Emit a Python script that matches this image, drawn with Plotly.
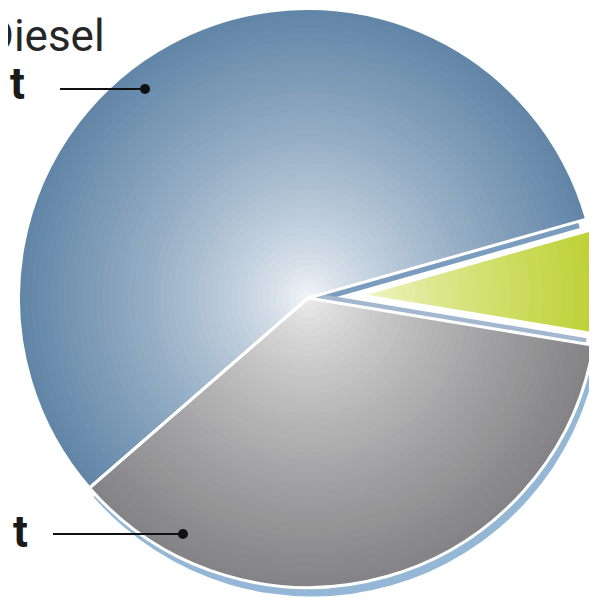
import numpy as np
import plotly.graph_objects as go

# ---------------- data ----------------
labels = ["Diesel", "Segment grün", "Segment grau"]
values = [57.0, 7.0, 36.0]
label_texts = ["Diesel", "t", "t"]

# ---------------- styling ----------------
edge_cols = [(98, 134, 168), (182, 204, 32), (132, 132, 134)]
center_cols = [(248, 250, 252), (246, 249, 215), (240, 240, 240)]
RIM_COL = "#95b7d6"
STRIP_BLUE = "#7a9dbf"
STRIP_GREY = "#a3b7cf"
TRANSP = "rgba(0,0,0,0)"
GAMMA = 0.75

W, H = 660, 600
OFF = 8            # page margin of the html body
CX, CY, R = 308, 298, 289.5   # pie centre / radius in screen px
ROT = 229
PULL = 50
N = 45

def dom(cx, cy, r):
    x0 = (cx - OFF - r) / W
    x1 = (cx - OFF + r) / W
    y0 = 1 - (cy - OFF + r) / H
    y1 = 1 - (cy - OFF - r) / H
    return dict(x=[max(0, x0), min(1, x1)], y=[max(0, y0), min(1, y1)])

def mix(c0, c1, f):
    return "rgb(%d,%d,%d)" % tuple(round(a + (b - a) * f) for a, b in zip(c0, c1))

tot = sum(values)
g_start = ROT + values[0] / tot * 360
g_mid = g_start + values[1] / tot * 180
gcx = CX + PULL * np.sin(np.radians(g_mid))
gcy = CY - PULL * np.cos(np.radians(g_mid))
RG = min(R, gcy - OFF - 0.5)

common = dict(labels=labels, values=values, sort=False, direction="clockwise",
              rotation=ROT, textinfo="none", hoverinfo="skip", showlegend=False)

fig = go.Figure()

# 3D edge under grey slice
fig.add_trace(go.Pie(**common, domain=dom(CX + 4, CY + 9, R),
                     marker=dict(colors=[TRANSP, TRANSP, RIM_COL], line=dict(width=0))))
# side faces visible in the gap around the pulled slice
fig.add_trace(go.Pie(**common, domain=dom(CX, CY + 7, R - 7),
                     marker=dict(colors=[STRIP_BLUE, TRANSP, TRANSP], line=dict(width=0))))
fig.add_trace(go.Pie(**common, domain=dom(CX, CY - 6, R - 7),
                     marker=dict(colors=[TRANSP, TRANSP, STRIP_GREY], line=dict(width=0))))

# main pie gradient layers (blue + grey)
for k in range(N):
    t = 1 - k / N
    f = t ** GAMMA
    r = R * t
    cols = [mix(center_cols[0], edge_cols[0], f), TRANSP, mix(center_cols[2], edge_cols[2], f)]
    fig.add_trace(go.Pie(**common, domain=dom(CX, CY, r),
                         marker=dict(colors=cols, line=dict(width=0))))

# pulled green slice gradient layers
for k in range(N):
    t = 1 - k / N
    f = t ** GAMMA
    r = RG * t
    cols = [TRANSP, mix(center_cols[1], edge_cols[1], f), TRANSP]
    fig.add_trace(go.Pie(**common, domain=dom(gcx, gcy, r),
                         marker=dict(colors=cols, line=dict(width=0))))

# white outlines
fig.add_trace(go.Pie(**common, domain=dom(CX, CY, R),
                     marker=dict(colors=[TRANSP] * 3,
                                 line=dict(color=["white", TRANSP, "white"], width=[3, 0, 3]))))
fig.add_trace(go.Pie(**common, domain=dom(gcx, gcy, RG),
                     marker=dict(colors=[TRANSP] * 3,
                                 line=dict(color=[TRANSP, "white", TRANSP], width=[0, 4, 0]))))

def X(sx):
    return (sx - OFF) / W

def Y(sy):
    return 1 - (sy - OFF) / H

annots = [
    dict(x=X(107), y=Y(36), text=label_texts[0], xanchor="right", yanchor="middle",
         font=dict(family="Roboto", size=44, color="#262626", weight=400)),
    dict(x=X(27), y=Y(84), text=label_texts[1], xanchor="right", yanchor="middle",
         font=dict(family="Roboto", size=44, color="#1a1a1a", weight="bold")),
    dict(x=X(30), y=Y(532), text=label_texts[2], xanchor="right", yanchor="middle",
         font=dict(family="Roboto", size=44, color="#1a1a1a", weight="bold")),
]
for a in annots:
    a.update(xref="paper", yref="paper", showarrow=False)

shapes = []
for (x0, x1, y) in [(60, 145, 89), (53, 183, 534)]:
    shapes.append(dict(type="line", xref="paper", yref="paper", x0=X(x0), x1=X(x1), y0=Y(y), y1=Y(y),
                       line=dict(color="#111111", width=2)))
    shapes.append(dict(type="circle", xref="paper", yref="paper", x0=X(x1 - 5), x1=X(x1 + 5),
                       y0=Y(y + 5), y1=Y(y - 5), fillcolor="#111111", line=dict(width=0)))

fig.update_layout(width=W, height=H, margin=dict(l=0, r=0, t=0, b=0),
                  paper_bgcolor="white", plot_bgcolor="white",
                  annotations=annots, shapes=shapes)

fig.write_html("out.html")
